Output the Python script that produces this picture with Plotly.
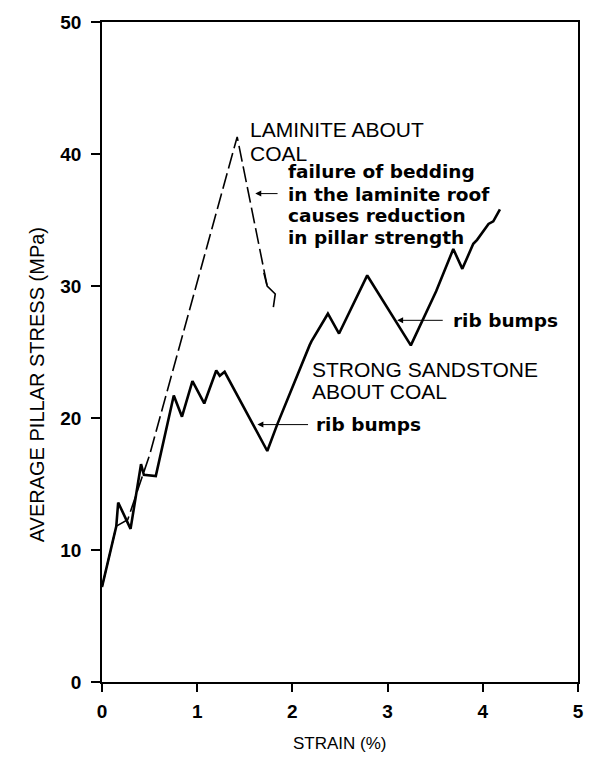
import plotly.graph_objects as go

# strong sandstone about coal (solid)
sand_strain = [0.0, 0.15, 0.17, 0.30, 0.41, 0.44, 0.565, 0.754, 0.84, 0.95, 1.074,
               1.20, 1.237, 1.288, 1.736, 1.84, 2.18, 2.20, 2.373, 2.49, 2.786,
               3.244, 3.51, 3.69, 3.785, 3.90, 3.94, 4.06, 4.11, 4.18]
sand_stress = [7.2, 11.8, 13.6, 11.6, 16.5, 15.7, 15.6, 21.7, 20.1, 22.8, 21.1,
               23.6, 23.2, 23.5, 17.5, 19.5, 25.5, 25.8, 27.9, 26.4, 30.8,
               25.5, 29.6, 32.8, 31.3, 33.2, 33.5, 34.7, 34.9, 35.8]

# laminite about coal (dashed)
lam_strain = [0.0, 0.15, 0.27, 0.5, 1.42, 1.735]
lam_stress = [7.2, 11.8, 12.3, 17.2, 41.3, 30.0]
# tail after the drop
tail_strain = [1.70, 1.735, 1.82, 1.80]
tail_stress = [31.0, 30.0, 29.4, 28.4]

x_ticks = [0, 1, 2, 3, 4, 5]
y_ticks = [0, 10, 20, 30, 40, 50]

FONT = "Liberation Sans, Arial, sans-serif"

fig = go.Figure()

fig.add_trace(go.Scatter(
    x=lam_strain, y=lam_stress, mode='lines',
    line=dict(color='black', width=1.6, dash='16px,5px'),
    showlegend=False
))
fig.add_trace(go.Scatter(
    x=tail_strain, y=tail_stress, mode='lines',
    line=dict(color='black', width=1.6),
    showlegend=False
))
fig.add_trace(go.Scatter(
    x=sand_strain, y=sand_stress, mode='lines',
    line=dict(color='black', width=2.6),
    showlegend=False
))

caps = dict(family=FONT, size=21, color='black')
bold = dict(family="DejaVu Sans, sans-serif", size=18.5, color='black', weight='bold')

# text labels, one annotation per line to keep the tight leading
labels = [
    (1.529, 41.87, "LAMINITE ABOUT", caps),
    (1.529, 40.06, "COAL", caps),
    (1.932, 38.70, "failure of bedding", bold),
    (1.932, 36.90, "in the laminite roof", bold),
    (1.932, 35.32, "causes reduction", bold),
    (1.932, 33.66, "in pillar strength", bold),
    (2.180, 23.64, "STRONG SANDSTONE", caps),
    (2.180, 21.99, "ABOUT COAL", caps),
    (2.231, 19.50, "rib bumps", bold),
    (3.667, 27.41, "rib bumps", bold),
]
for lx, ly, ltxt, lfont in labels:
    fig.add_annotation(x=lx, y=ly, xref='x', yref='y', xanchor='left', yanchor='middle',
                       text=ltxt, showarrow=False, font=lfont)

# arrows
for tip_x, tip_y, tail_x in [(1.61, 37.0, 1.86), (1.632, 19.5, 2.18), (3.10, 27.4, 3.595)]:
    fig.add_annotation(x=tip_x, y=tip_y, ax=tail_x, ay=tip_y,
                       xref='x', yref='y', axref='x', ayref='y',
                       text="", showarrow=True, arrowhead=2, arrowsize=1.2,
                       arrowwidth=1, arrowcolor='black')

# axis titles
fig.add_annotation(x=-0.136, y=0.450, xref='paper', yref='paper',
                   xanchor='center', yanchor='middle',
                   text="AVERAGE PILLAR STRESS (MPa)", textangle=-90, showarrow=False,
                   font=dict(family=FONT, size=20, color='black'))
fig.add_annotation(x=0.5, y=-0.0934, xref='paper', yref='paper',
                   xanchor='center', yanchor='middle',
                   text="STRAIN (%)", showarrow=False,
                   font=dict(family=FONT, size=17, color='black'))

tickfont = dict(family=FONT, size=19, color='black', weight='bold')

fig.update_layout(
    width=596, height=767,
    margin=dict(l=102, r=18, t=18, b=85),
    plot_bgcolor='white', paper_bgcolor='white',
    showlegend=False,
    xaxis=dict(
        range=[0, 5], tickvals=x_ticks, ticktext=[str(v) for v in x_ticks],
        showgrid=False, zeroline=False,
        showline=True, linecolor='black', linewidth=1.5, mirror=True,
        ticks='outside', ticklen=8, tickcolor='black', tickwidth=1.5,
        ticklabelstandoff=3,
        tickfont=tickfont
    ),
    yaxis=dict(
        range=[0, 50], tickvals=y_ticks, ticktext=[str(v) for v in y_ticks],
        showgrid=False, zeroline=False,
        showline=True, linecolor='black', linewidth=1.5, mirror=True,
        ticks='outside', ticklen=9, tickcolor='black', tickwidth=1.5,
        ticklabelstandoff=6,
        tickfont=tickfont
    ),
)

# drop the default body margin and scrollbars so the figure fills the window exactly
page_fix = ("document.body.style.margin='0';"
            "document.body.style.overflow='hidden';"
            "document.documentElement.style.overflow='hidden';")
fig.write_html("out.html", post_script=page_fix, config={'displayModeBar': False})
